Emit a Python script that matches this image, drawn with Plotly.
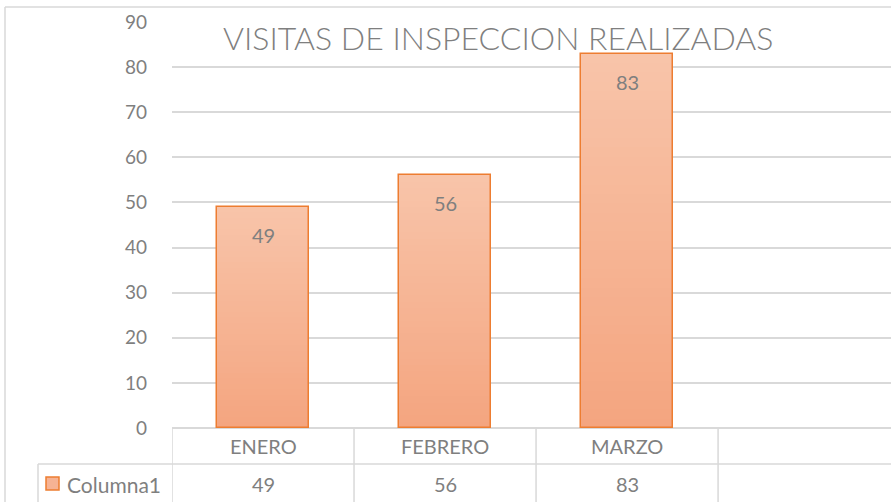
import plotly.graph_objects as go

categories = ["ENERO", "FEBRERO", "MARZO"]
values = [49, 56, 83]
series_name = "Columna1"
title_text = "VISITAS DE INSPECCION REALIZADAS"
y_ticks = list(range(0, 91, 10))

W, H = 891, 502
ML, MR, MT, MB = 172, 0, 22, 74
PW = W - ML - MR
PH = H - MT - MB
XR = [-0.5, 3.45]

GRAY = "#d9d9d9"
TXT = "#7f7f7f"
FONT = "Lato, 'Open Sans', sans-serif"
TOP = (248, 196, 169)
BOT = (244, 165, 128)


def px_y(p):
    return (H - MB - p) / PH


def px_x(p):
    return (p - ML) / PW


fig = go.Figure()

N = 40
for k in range(N):
    t = k / (N - 1)
    c = tuple(round(BOT[i] + (TOP[i] - BOT[i]) * t) for i in range(3))
    fig.add_trace(go.Bar(
        x=list(range(len(categories))),
        y=[v / N * 1.02 for v in values],
        base=[v * k / N for v in values],
        width=0.505,
        marker=dict(color="rgb(%d,%d,%d)" % c, line=dict(width=0)),
        showlegend=False, hoverinfo="skip",
    ))

fig.add_trace(go.Bar(
    x=list(range(len(categories))), y=values, width=0.505,
    marker=dict(color="rgba(0,0,0,0)", line=dict(color="#ED7D31", width=1.5)),
    name=series_name, showlegend=False,
))

annotations = []
for i, v in enumerate(values):
    annotations.append(dict(x=i, y=v, xref="x", yref="y", text=str(v), showarrow=False,
                            xanchor="center", yanchor="middle",
                            yshift=-28, font=dict(size=20, color=TXT, family=FONT)))
    annotations.append(dict(x=i, y=px_y(446), xref="x", yref="paper", text=categories[i],
                            xanchor="center", yanchor="middle",
                            showarrow=False, font=dict(size=20, color=TXT, family=FONT)))
    annotations.append(dict(x=i, y=px_y(484), xref="x", yref="paper", text=str(v),
                            xanchor="center", yanchor="middle",
                            showarrow=False, font=dict(size=20, color=TXT, family=FONT)))

annotations.append(dict(x=px_x(65), y=px_y(484), xref="paper", yref="paper", text=series_name,
                        xanchor="left", yanchor="middle",
                        showarrow=False, font=dict(size=21, color=TXT, family=FONT)))
annotations.append(dict(x=px_x(498), y=px_y(37), xref="paper", yref="paper", text=title_text,
                        xanchor="center", yanchor="middle",
                        showarrow=False, font=dict(size=32, color=TXT, family=FONT, weight=300)))

shapes = []
line = dict(color=GRAY, width=1.5)
# table vertical lines
for xv in [-0.5, 0.5, 1.5, 2.5]:
    shapes.append(dict(type="line", xref="x", yref="paper", x0=xv, x1=xv,
                       y0=0, y1=px_y(H + 5), line=line))
# table horizontal line between header and value row
shapes.append(dict(type="line", xref="paper", yref="paper", x0=px_x(38), x1=1,
                   y0=px_y(464), y1=px_y(464), line=line))
# legend cell left border
shapes.append(dict(type="line", xref="paper", yref="paper", x0=px_x(38), x1=px_x(38),
                   y0=px_y(464), y1=px_y(H + 5), line=line))
# legend key
shapes.append(dict(type="rect", xref="paper", yref="paper", x0=px_x(46), x1=px_x(59),
                   y0=px_y(490), y1=px_y(477), fillcolor="#F6B394",
                   line=dict(color="#ED7D31", width=1.5)))
# outer chart border
shapes.append(dict(type="line", xref="paper", yref="paper", x0=px_x(5), x1=px_x(5),
                   y0=px_y(7), y1=px_y(H + 5), line=line))
shapes.append(dict(type="line", xref="paper", yref="paper", x0=px_x(5), x1=1.01,
                   y0=px_y(7), y1=px_y(7), line=line))

fig.update_layout(
    width=W, height=H,
    margin=dict(l=ML, r=MR, t=MT, b=MB, pad=0),
    paper_bgcolor="white", plot_bgcolor="white",
    barmode="overlay", bargap=0,
    showlegend=False,
    xaxis=dict(range=XR, showticklabels=False, showgrid=False, zeroline=False,
               showline=False, ticks="", fixedrange=True),
    yaxis=dict(range=[0, 90], tickvals=y_ticks, showgrid=True, gridcolor=GRAY, gridwidth=1.5,
               zeroline=True, zerolinecolor=GRAY, zerolinewidth=1.5, showline=False,
               ticks="", ticklabelstandoff=24,
               tickfont=dict(size=19, color=TXT, family=FONT), fixedrange=True),
    annotations=annotations,
    shapes=shapes,
)

fig.write_html("out.html", config={"displayModeBar": False},
               post_script="document.body.style.margin='0';document.body.style.overflow='hidden';")
